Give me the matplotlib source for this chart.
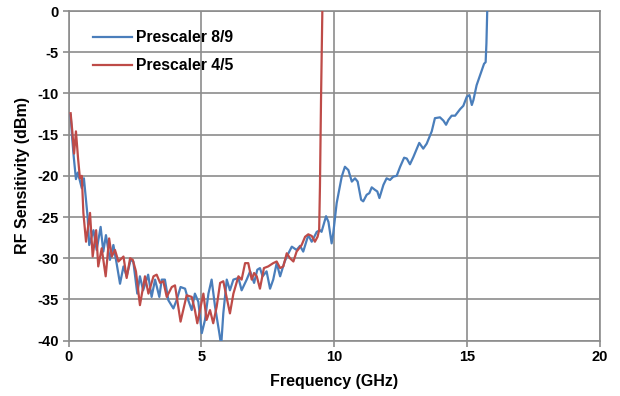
import matplotlib.pyplot as plt

plt.rcParams['font.family'] = ['Liberation Sans', 'DejaVu Sans']
plt.rcParams['font.weight'] = 'bold'
plt.rcParams['axes.unicode_minus'] = False

# Prescaler 8/9 sweep (GHz, dBm)
freq_89 = [0.08, 0.14, 0.20, 0.28, 0.35, 0.43, 0.50, 0.58, 0.66, 0.72, 0.78, 0.94, 1.06,
           1.21, 1.31, 1.41, 1.56, 1.69, 1.81, 1.94, 2.07, 2.19, 2.34, 2.44, 2.59, 2.69,
           2.81, 3.00, 3.13, 3.26, 3.42, 3.51, 3.63, 3.76, 3.95, 4.07, 4.22, 4.39, 4.51,
           4.64, 4.76, 4.89, 5.02, 5.14, 5.27, 5.39, 5.52, 5.68, 5.75, 5.83, 5.96, 6.08,
           6.21, 6.40, 6.52, 6.71, 6.84, 6.99, 7.11, 7.21, 7.31, 7.46, 7.59, 7.71, 7.84,
           7.97, 8.12, 8.22, 8.41, 8.59, 8.72, 8.84, 9.03, 9.16, 9.35, 9.47, 9.53, 9.70,
           9.79, 9.91, 9.97, 10.10, 10.29, 10.41, 10.54, 10.67, 10.79, 10.89, 11.02, 11.10,
           11.23, 11.33, 11.42, 11.54, 11.63, 11.71, 11.86, 11.98, 12.11, 12.23, 12.36,
           12.49, 12.64, 12.74, 12.86, 12.99, 13.21, 13.36, 13.49, 13.68, 13.80, 13.99,
           14.12, 14.22, 14.31, 14.43, 14.56, 14.75, 14.87, 15.00, 15.10, 15.19, 15.25,
           15.37, 15.50, 15.65, 15.71, 15.74, 15.77]
sens_89 = [-12.6, -15.5, -17.8, -20.4, -19.6, -20.6, -21.5, -20.3, -23.0, -25.0, -28.4, -26.6, -29.0,
           -26.2, -29.2, -27.2, -30.2, -28.4, -30.6, -33.1, -31.0, -32.2, -30.2, -30.4, -34.3, -32.2,
           -33.9, -32.0, -34.7, -32.6, -34.7, -32.6, -32.6, -35.1, -36.1, -35.1, -33.5, -33.7, -35.1,
           -36.3, -34.3, -35.3, -39.1, -37.5, -34.3, -32.6, -35.9, -39.1, -40.6, -36.7, -32.6, -33.9,
           -32.6, -32.4, -33.9, -32.6, -31.6, -33.0, -31.4, -31.2, -32.2, -31.6, -33.7, -32.6, -30.6,
           -32.2, -30.6, -29.8, -28.6, -29.0, -28.5, -29.2, -27.2, -28.0, -26.8, -26.6, -26.8, -24.9,
           -25.6, -28.2, -27.0, -23.3, -20.1, -18.9, -19.3, -20.7, -20.3, -20.7, -22.9, -23.1,
           -22.3, -22.1, -21.4, -21.7, -21.9, -22.7, -21.1, -20.3, -20.5, -20.1, -20.0,
           -18.9, -17.8, -17.9, -18.6, -17.7, -16.0, -16.7, -16.1, -14.6, -13.0, -12.9,
           -13.3, -13.8, -13.2, -12.7, -12.7, -11.9, -11.5, -10.4, -10.2, -11.4, -10.8,
           -9.0, -7.8, -6.4, -6.2, -3.9, 0.0]

# Prescaler 4/5 sweep (GHz, dBm)
freq_45 = [0.08, 0.14, 0.21, 0.28, 0.36, 0.43, 0.50, 0.56, 0.66, 0.81, 0.91, 1.04, 1.12,
           1.25, 1.40, 1.53, 1.63, 1.75, 1.88, 2.07, 2.19, 2.32, 2.42, 2.54, 2.69, 2.88,
           3.01, 3.20, 3.32, 3.45, 3.57, 3.70, 3.89, 4.01, 4.22, 4.45, 4.64, 4.76, 4.85,
           4.95, 5.08, 5.20, 5.33, 5.45, 5.58, 5.71, 5.83, 6.08, 6.21, 6.40, 6.52, 6.65,
           6.77, 6.90, 6.99, 7.09, 7.21, 7.36, 7.52, 7.71, 7.84, 7.97, 8.09, 8.22, 8.34,
           8.47, 8.59, 8.78, 8.91, 9.03, 9.16, 9.28, 9.38, 9.44, 9.47, 9.51, 9.56]
sens_45 = [-12.4, -14.5, -17.3, -14.6, -17.9, -20.3, -20.0, -24.5, -28.0, -24.5, -29.8, -26.6, -31.0,
           -28.8, -32.2, -27.6, -29.8, -29.0, -30.4, -29.8, -32.4, -30.0, -30.2, -31.6, -35.7, -32.2,
           -34.3, -32.2, -32.0, -33.0, -32.8, -34.7, -33.5, -33.3, -37.7, -34.5, -34.7, -36.3, -37.9,
           -36.3, -34.3, -37.5, -36.3, -37.9, -35.9, -33.0, -32.8, -36.7, -34.3, -32.2, -32.6, -30.6,
           -30.6, -32.6, -31.8, -32.2, -33.7, -31.2, -31.0, -30.6, -30.4, -31.2, -31.0, -29.4, -30.0,
           -30.4, -29.2, -28.4, -27.4, -27.1, -27.3, -28.0, -27.4, -26.6, -21.3, -10.8, 0.0]

blue = '#4A7EBB'
red = '#BE4B48'
grid_grey = '#8C8C8C'

fig = plt.figure(figsize=(6.2, 3.96), dpi=100)
ax = fig.add_axes([0.1105, 0.14, 0.8565, 0.832])

ax.plot(freq_89, sens_89, color=blue, lw=1.6, label='Prescaler 8/9', zorder=3,
        solid_joinstyle='round')
ax.plot(freq_45, sens_45, color=red, lw=1.6, label='Prescaler 4/5', zorder=3,
        solid_joinstyle='round')

ax.set_xlim(0, 20)
ax.set_ylim(-40, 0)
ax.set_xticks([0, 5, 10, 15, 20])
ax.set_yticks(range(-40, 1, 5))
ax.grid(True, color=grid_grey, lw=1.2, zorder=0)
for s in ax.spines.values():
    s.set_color(grid_grey)
    s.set_linewidth(1.2)
ax.tick_params(direction='out', length=4, width=1.2, color=grid_grey,
               labelsize=10.5, labelcolor='black', pad=3)

ax.set_xlabel('Frequency (GHz)', fontsize=11.5, fontweight='bold', labelpad=7)
ax.set_ylabel('RF Sensitivity (dBm)', fontsize=11.5, fontweight='bold', labelpad=5)

ax.legend(loc='upper left', bbox_to_anchor=(0.02, 0.985), frameon=False,
          handlelength=2.45, handletextpad=0.25, labelspacing=0.85,
          prop={'weight': 'bold', 'size': 11.3})

fig.savefig('out.png', dpi=100)
